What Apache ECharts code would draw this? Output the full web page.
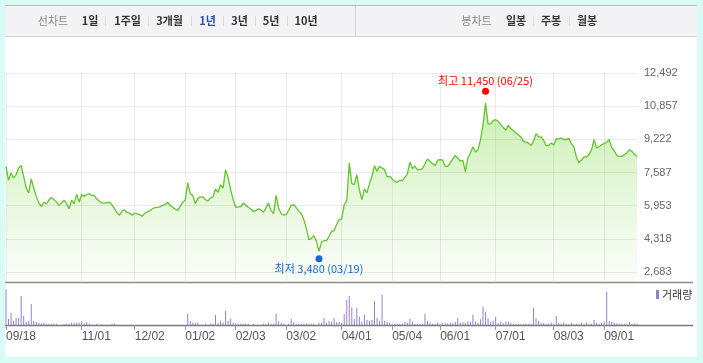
<!DOCTYPE html>
<html><head><meta charset="utf-8">
<script src="https://cdn.jsdelivr.net/npm/echarts@6/dist/echarts.min.js"></script>
<style>
html,body{margin:0;padding:0;background:#d9fbf5;}
#wrap{position:relative;width:703px;height:363px;}
#panel{position:absolute;left:5px;top:5px;width:692px;height:352px;background:#fff;}
#c{position:absolute;left:0;top:0;width:703px;height:363px;}
</style>
</head><body><div id="wrap"><div id="panel"></div><div id="c"></div></div>
<script>
// ---- data ----
const startDate = '2019-09-18';
const endDate = '2020-09-18';
const holidays = ['2019-10-03','2019-10-09','2019-12-25','2019-12-31','2020-01-01','2020-01-24','2020-01-27',
  '2020-04-15','2020-04-30','2020-05-01','2020-05-05','2020-08-17'];
const closes = [
  7890,7200,7560,7320,7480,7810,7920,7400,6820,6580,
  7270,6820,6410,6080,5920,6120,6040,6220,6360,6250,
  6130,5970,6080,6220,6050,5800,6220,6040,6510,6130,
  6500,6410,6500,6540,6460,6450,6280,6170,6080,6080,
  6100,6120,5990,5800,5590,5480,5690,5740,5610,5590,
  5480,5590,5540,5510,5430,5580,5640,5690,5800,5850,
  5870,5890,5970,6000,6120,5970,5870,5790,5710,5920,
  6120,6220,7070,6540,6460,6050,6300,6380,6380,6250,
  6170,6330,6380,6770,6610,6990,6820,7730,7320,6740,
  6250,5870,5890,5890,6080,5970,5870,5790,5660,5720,
  5790,5740,5620,5840,6080,5720,5560,6460,5840,5560,
  5480,5510,5720,5970,6000,5840,5670,5560,5260,4820,
  4280,4340,4470,4190,3700,4150,4230,4230,4440,4690,
  4720,5020,5260,5300,6000,6170,8060,7040,6990,7480,
  6740,6250,6770,6580,7040,7400,7920,7650,7890,7810,
  7730,7370,7400,7270,7150,7100,7200,7170,7350,7510,
  8090,7780,7890,7730,7730,7780,8020,8250,8140,8020,
  7920,8190,8220,8190,7890,7890,8060,8250,8420,8300,
  8140,8190,7630,8300,8550,8850,8600,8710,9210,9950,
  11010,9980,9980,10140,10190,10110,9950,9810,9670,9910,
  9750,9650,9540,9450,9340,9120,9080,9040,8910,9120,
  9500,9340,9340,9170,8910,8910,9040,8940,9240,9240,
  9290,9210,9210,9270,9010,8850,8350,8060,8190,8350,
  8350,8470,8710,9210,8800,8850,8960,9010,9080,9210,
  8800,8660,8420,8380,8380,8470,8550,8710,8630,8470,
  8380
];
const volumes = [
  360,60,120,43,70,70,290,90,30,40,
  210,40,30,23,17,23,13,13,13,13,
  13,0,0,13,13,13,23,23,23,23,
  40,17,30,13,0,0,13,0,13,0,
  0,0,13,13,0,0,0,0,0,0,
  0,0,0,0,0,0,0,0,0,0,
  0,0,0,0,0,0,0,0,0,0,
  0,0,110,40,23,23,23,0,0,13,
  0,13,13,100,23,43,23,140,40,60,
  23,17,13,13,13,13,13,0,13,0,
  0,0,13,13,23,13,13,110,37,17,
  13,0,13,60,30,13,13,13,13,13,
  13,13,13,0,23,23,70,23,40,30,
  70,30,30,23,110,250,290,177,60,170,
  83,33,103,50,43,50,240,70,43,300,
  40,33,23,13,13,13,13,13,30,23,
  60,33,13,13,13,13,113,40,23,13,
  13,23,13,23,17,17,23,17,30,70,
  23,30,23,37,33,103,33,23,57,183,
  133,67,30,40,83,23,33,17,30,33,
  23,13,13,13,13,13,13,13,13,170,
  70,40,23,23,13,13,23,13,90,23,
  13,23,13,13,23,13,13,13,23,13,
  23,13,13,50,23,13,23,37,330,40,
  30,23,17,13,13,13,13,30,13,13,
  13
];
const yTicks = [2683, 4318, 5953, 7587, 9222, 10857, 12492];
const xTickDates = ['2019-09-18','2019-11-01','2019-12-02','2020-01-02','2020-02-03','2020-03-02',
  '2020-04-01','2020-05-04','2020-06-01','2020-07-01','2020-08-03','2020-09-01'];
const high = {label: '최고', value: 11450, date: '2020-06-25'};
const low = {label: '최저', value: 3480, date: '2020-03-19'};
const lineTitle = '선차트';
const periodTabs = ['1일','1주일','3개월','1년','3년','5년','10년'];
const activeTab = '1년';
const candleTitle = '봉차트';
const candleTabs = ['일봉','주봉','월봉'];
const volumeName = '거래량';

// ---- helpers ----
function tradingDays() {
  const out = [];
  let d = new Date(startDate + 'T00:00:00Z');
  const end = new Date(endDate + 'T00:00:00Z');
  while (d <= end) {
    const dow = d.getUTCDay();
    const s = d.toISOString().slice(0, 10);
    if (dow !== 0 && dow !== 6 && holidays.indexOf(s) < 0) out.push(s);
    d = new Date(d.getTime() + 86400000);
  }
  return out;
}
const dates = tradingDays();
const tickIdx = new Set(xTickDates.map(d => dates.indexOf(d)));
const fmt = v => Number(v).toLocaleString('en-US');
const mmdd = s => s.slice(5, 7) + '/' + s.slice(8, 10);
const FONT = '"Liberation Sans", "Noto Sans CJK KR", sans-serif';
const KFONT = '"Noto Sans CJK KR", "Liberation Sans", sans-serif';

// ---- header graphic ----
const tabCenters = [90, 127.5, 169.5, 207.5, 239.5, 271, 306];
const tabSeps = [105, 148, 191, 223, 255, 287];
const candleCenters = [516, 551, 587];
const candleSeps = [533, 569];
const HY = 21;
const graphic = [
  {type: 'rect', shape: {x: 5, y: 5, width: 692, height: 31}, style: {fill: '#f3f3f6'}},
  {type: 'line', shape: {x1: 5, y1: 5.5, x2: 697, y2: 5.5}, style: {stroke: '#b9b9b9', lineWidth: 1}},
  {type: 'line', shape: {x1: 5, y1: 36.5, x2: 697, y2: 36.5}, style: {stroke: '#d4d4d4', lineWidth: 1}},
  {type: 'line', shape: {x1: 355.5, y1: 6, x2: 355.5, y2: 36}, style: {stroke: '#d4d4d4', lineWidth: 1}},
  {type: 'text', style: {text: lineTitle, x: 53, y: HY, align: 'center', verticalAlign: 'middle', fill: '#8a8a8a', font: '11px ' + KFONT}},
  {type: 'text', style: {text: candleTitle, x: 476.5, y: HY, align: 'center', verticalAlign: 'middle', fill: '#8a8a8a', font: '11px ' + KFONT}},
  {type: 'line', shape: {x1: 5, y1: 282.5, x2: 693, y2: 282.5}, style: {stroke: '#8c8c8c', lineWidth: 1.3}},
  {type: 'line', shape: {x1: 5, y1: 325.5, x2: 693, y2: 325.5}, style: {stroke: '#7a7a7a', lineWidth: 1.3}}
];
periodTabs.forEach((t, i) => graphic.push({type: 'text', style: {text: t, x: tabCenters[i], y: HY, align: 'center', verticalAlign: 'middle',
  fill: t === activeTab ? '#2c4ea8' : '#333', font: 'bold 11px ' + KFONT}}));
candleTabs.forEach((t, i) => graphic.push({type: 'text', style: {text: t, x: candleCenters[i], y: HY, align: 'center', verticalAlign: 'middle',
  fill: '#333', font: 'bold 11px ' + KFONT}}));
tabSeps.concat(candleSeps).forEach(x => graphic.push({type: 'line', shape: {x1: x + 0.5, y1: 16, x2: x + 0.5, y2: 26}, style: {stroke: '#dcdcdc', lineWidth: 1}}));

// ---- chart ----
const chart = echarts.init(document.getElementById('c'), null, {renderer: 'canvas'});
const tickStep = yTicks[1] - yTicks[0];
const yMin = yTicks[0] - tickStep * 10 / 33;
const isTick = i => tickIdx.has(i);

chart.setOption({
  animation: false,
  backgroundColor: 'transparent',
  textStyle: {fontFamily: FONT},
  graphic: graphic,
  legend: {
    data: [volumeName], left: 656, top: 289, icon: 'rect', itemWidth: 3, itemHeight: 9, padding: 0,
    selectedMode: false, textStyle: {fontSize: 11, color: '#333', fontFamily: KFONT, padding: [0, 0, 0, -2]}
  },
  grid: [
    {left: 6, right: 66, top: 73, height: 209},
    {left: 6, right: 66, top: 287, height: 38}
  ],
  xAxis: [
    {type: 'category', gridIndex: 0, data: dates, boundaryGap: false,
      axisLine: {show: false}, axisTick: {show: false}, axisLabel: {show: false},
      splitLine: {show: true, interval: isTick, lineStyle: {color: '#ebebeb', width: 1}}},
    {type: 'category', gridIndex: 1, data: dates, boundaryGap: false,
      axisLine: {show: false},
      axisTick: {show: true, interval: isTick, length: 5, lineStyle: {color: '#999'}},
      axisLabel: {interval: isTick, formatter: mmdd, align: 'left', color: '#555', fontSize: 12, margin: 6},
      splitLine: {show: false}}
  ],
  yAxis: [
    {type: 'value', gridIndex: 0, min: yMin, max: yTicks[yTicks.length - 1], position: 'right',
      axisLine: {show: false}, axisTick: {show: false}, axisLabel: {show: false}, splitLine: {show: false}},
    {type: 'value', gridIndex: 1, min: 0, max: 380, show: false, splitLine: {show: false}}
  ],
  series: [
    {type: 'line', name: 'price', xAxisIndex: 0, yAxisIndex: 0, data: closes, showSymbol: false, symbol: 'none',
      lineStyle: {color: '#62c52e', width: 1.3},
      areaStyle: {color: new echarts.graphic.LinearGradient(0, 0, 0, 1, [
        {offset: 0, color: 'rgba(110,210,40,0.52)'},
        {offset: 0.5, color: 'rgba(120,215,60,0.27)'},
        {offset: 1, color: 'rgba(130,215,80,0.05)'}])},
      emphasis: {disabled: true},
      markLine: {silent: true, symbol: ['none', 'none'], animation: false,
        data: yTicks.map(v => ({yAxis: v})),
        lineStyle: {color: 'rgba(0,0,0,0.075)', type: 'solid', width: 1},
        label: {position: 'end', formatter: p => fmt(p.value), color: '#666', fontSize: 11, distance: 7},
        emphasis: {disabled: true}}
    },
    {type: 'scatter', xAxisIndex: 0, yAxisIndex: 0, z: 5, symbolSize: 7, symbolOffset: [0, -3],
      data: [[dates.indexOf(high.date), high.value]], itemStyle: {color: '#ff0000', opacity: 1},
      label: {show: true, position: 'top', distance: 1, color: '#ff0000', fontSize: 11, fontFamily: KFONT,
        formatter: () => high.label + ' ' + fmt(high.value) + ' (' + mmdd(high.date) + ')'}, emphasis: {disabled: true}},
    {type: 'scatter', xAxisIndex: 0, yAxisIndex: 0, z: 5, symbolSize: 7, symbolOffset: [0, 3],
      data: [[dates.indexOf(low.date), low.value]], itemStyle: {color: '#1566d8', opacity: 1},
      label: {show: true, position: 'bottom', distance: 1, color: '#1566d8', fontSize: 11, fontFamily: KFONT,
        formatter: () => low.label + ' ' + fmt(low.value) + ' (' + mmdd(low.date) + ')'}, emphasis: {disabled: true}},
    {type: 'bar', name: volumeName, xAxisIndex: 1, yAxisIndex: 1, data: volumes, barWidth: 1,
      itemStyle: {color: '#9580cc'}, emphasis: {disabled: true}}
  ]
});
</script>
</body></html>
